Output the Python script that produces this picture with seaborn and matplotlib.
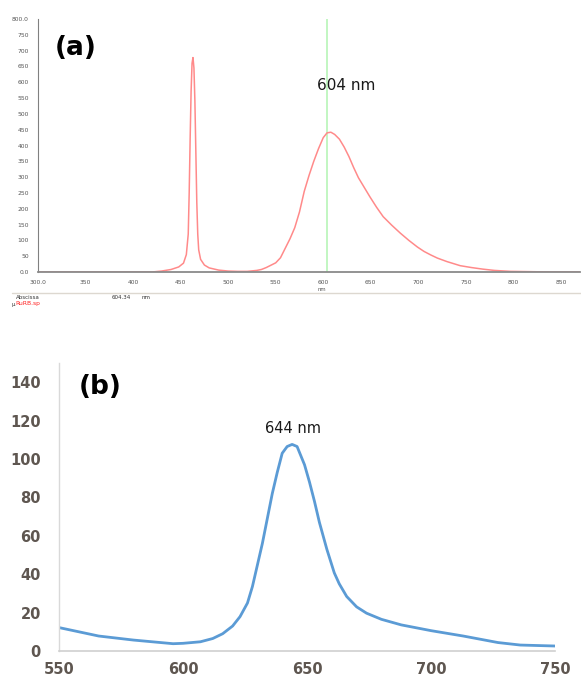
import matplotlib
matplotlib.use("Agg")
import matplotlib.pyplot as plt
import seaborn as sns
import pandas as pd

# ---- Panel (a) data: excitation + emission spectrum ----
a_wavelength = [300, 350, 400, 420, 430, 440, 448, 453, 456, 458, 459, 460, 461, 462, 463,
                464, 465, 466, 467, 468, 469, 471, 475, 480, 490, 500, 510, 520, 530,
                535, 540, 544, 550, 555, 560, 565, 570, 575, 580, 585, 590, 595, 600,
                604, 608, 612, 617, 622, 627, 632, 637, 643, 649, 656, 663, 672, 681,
                690, 699, 706, 713, 720, 730, 744, 756, 768, 780, 797, 841, 870]
a_intensity = [0, 0, 0, 0, 3, 8, 16, 28, 55, 120, 250, 420, 570, 660, 678,
               645, 540, 380, 220, 120, 70, 40, 22, 13, 6, 3, 2, 2, 5,
               8, 14, 20, 29, 45, 75, 105, 140, 190, 255, 305, 350, 390, 425,
               440, 442, 435, 420, 395, 365, 330, 298, 268, 238, 205, 175, 148, 123,
               100, 79, 65, 54, 44, 33, 20, 14, 9, 5, 2, 0, 0]
a_xticks = [300, 350, 400, 450, 500, 550, 600, 650, 700, 750, 800, 850]
a_xticklabels = ["300.0", "350", "400", "450", "500", "550", "600", "650", "700", "750", "800", "850"]
a_yticks = [0, 50, 100, 150, 200, 250, 300, 350, 400, 450, 500, 550, 600, 650, 700, 750, 800]
a_yticklabels = ["0.0"] + [str(v) for v in a_yticks[1:-1]] + ["800.0"]
a_marker = 604

# ---- Panel (b) data ----
b_wavelength = [550, 566, 580, 596, 600, 607, 612, 616, 620, 623, 626, 628, 632, 636, 638,
                640, 642, 644, 646, 649, 651, 653, 655, 658, 661, 663, 666, 670, 674,
                680, 688, 700, 713, 727, 736, 750]
b_intensity = [12.2, 7.8, 5.7, 3.8, 4.0, 4.8, 6.5, 9.0, 13.0, 17.9, 25, 33.6, 56, 82, 93,
               103, 106.5, 107.6, 106.5, 97, 88, 78, 67, 53, 40.7, 35, 28.4, 23, 19.7,
               16.5, 13.6, 10.6, 7.8, 4.4, 3.1, 2.6]
b_xticks = [550, 600, 650, 700, 750]
b_yticks = [0, 20, 40, 60, 80, 100, 120, 140]

sns.set_style("white")
plt.rcParams['font.family'] = ['DejaVu Sans']

W, H = 581, 679
fig = plt.figure(figsize=(W / 100, H / 100), dpi=100)

def rect(l, t, r, b):
    return [l / W, 1 - b / H, (r - l) / W, (b - t) / H]

# ---------------- Panel (a) ----------------
axa = fig.add_axes(rect(38, 19, 580, 272))
dfa = pd.DataFrame({"nm": a_wavelength, "I": a_intensity})
sns.lineplot(data=dfa, x="nm", y="I", ax=axa, color="#ff8a8a", linewidth=1.1)
axa.axvline(a_marker, color="#b8f5b8", linewidth=1.2, zorder=0)
axa.set_xlim(300, 870)
axa.set_ylim(0, 800)
axa.set_xticks(a_xticks)
axa.set_xticklabels(a_xticklabels)
axa.set_yticks(a_yticks)
axa.set_yticklabels(a_yticklabels)
axa.tick_params(axis="both", labelsize=4.3, colors="#555555", length=2.5, width=0.6,
                direction="out", pad=4)
axa.tick_params(axis="x", pad=3)
for s in ["top", "right"]:
    axa.spines[s].set_visible(False)
axa.spines["left"].set_color("#808080")
axa.spines["left"].set_linewidth(0.8)
axa.spines["bottom"].set_color("#8a8a8a")
axa.spines["bottom"].set_linewidth(1.3)
axa.set_xlabel("")
axa.set_ylabel("")
fig.text(322 / W, 1 - 289 / H, "nm", fontsize=3.8, color="#555555", ha="center", va="center")
axa.text(0.07, 0.885, "(a)", transform=axa.transAxes, fontsize=19, fontweight="bold",
         ha="center", va="center", color="black")
axa.text(a_marker - 11, 590, "604 nm", fontsize=11, color="#1a1a1a", ha="left", va="center")

# footer of panel (a)
fig.add_artist(plt.Line2D([12 / W, 1.0], [1 - 293 / H, 1 - 293 / H], color="#ddd8d0", linewidth=1.0))
fig.text(16 / W, 1 - 297.5 / H, "Abscissa", fontsize=4, color="#333333", va="center")
fig.text(112 / W, 1 - 297.5 / H, "604.34", fontsize=4, color="#333333", va="center")
fig.text(142 / W, 1 - 297.5 / H, "nm", fontsize=4, color="#333333", va="center")
fig.text(11 / W, 1 - 304.5 / H, "\u00b5", fontsize=4, color="#333333", va="center")
fig.text(15 / W, 1 - 304 / H, "RuRB.sp", fontsize=4.3, color="#ff2020", va="center")

# ---------------- Panel (b) ----------------
axb = fig.add_axes(rect(59, 363, 555, 651))
dfb = pd.DataFrame({"nm": b_wavelength, "I": b_intensity})
sns.lineplot(data=dfb, x="nm", y="I", ax=axb, color="#5b9bd5", linewidth=2.0)
axb.set_xlim(550, 750)
axb.set_ylim(0, 150)
axb.set_xticks(b_xticks)
axb.set_yticks(b_yticks)
axb.tick_params(axis="both", labelsize=10.5, colors="#595959", length=0)
axb.tick_params(axis="y", pad=13)
axb.tick_params(axis="x", pad=8)
for lab in axb.get_xticklabels() + axb.get_yticklabels():
    lab.set_fontweight("bold")
    lab.set_color("#5e5650")
for s in ["top", "right"]:
    axb.spines[s].set_visible(False)
axb.spines["left"].set_color("#d9d9d9")
axb.spines["left"].set_linewidth(1.0)
axb.spines["bottom"].set_color("#d0d0d0")
axb.spines["bottom"].set_linewidth(1.2)
axb.set_xlabel("")
axb.set_ylabel("")
axb.text(0.0825, 0.915, "(b)", transform=axb.transAxes, fontsize=19,
         fontweight="bold", ha="center", va="center", color="black")
axb.text(644.5, 116, "644 nm", fontsize=10.5, color="#1a1a1a", ha="center", va="center")

fig.savefig("out.png", dpi=100)
